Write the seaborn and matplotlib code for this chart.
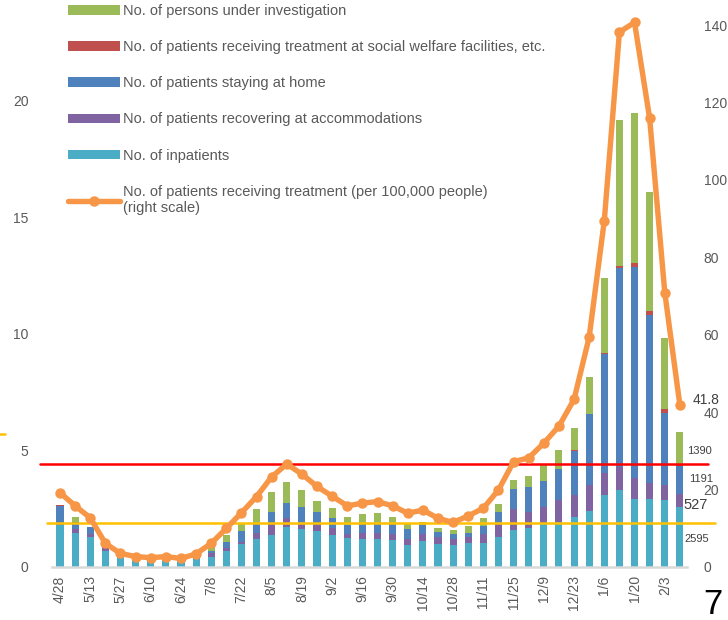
import numpy as np
import pandas as pd
import matplotlib.pyplot as plt
import seaborn as sns
from matplotlib.patches import Patch
from matplotlib.lines import Line2D

# weekly dates (every other one is labelled)
dates = ["4/28", "5/6", "5/13", "5/20", "5/27", "6/3", "6/10", "6/17", "6/24", "7/1",
         "7/8", "7/15", "7/22", "7/29", "8/5", "8/12", "8/19", "8/26", "9/2", "9/9",
         "9/16", "9/23", "9/30", "10/7", "10/14", "10/21", "10/28", "11/4", "11/11", "11/18",
         "11/25", "12/2", "12/9", "12/16", "12/23", "12/30", "1/6", "1/13", "1/20", "1/27",
         "2/3", "2/10"]

# persons (thousands), left scale
inpatients = [1.80, 1.47, 1.27, 0.70, 0.44, 0.30, 0.28, 0.28, 0.27, 0.35,
              0.42, 0.70, 0.97, 1.20, 1.37, 1.72, 1.62, 1.55, 1.37, 1.23,
              1.19, 1.20, 1.15, 0.96, 1.12, 0.99, 0.93, 1.02, 1.03, 1.30,
              1.59, 1.66, 1.85, 1.94, 2.13, 2.42, 3.09, 3.30, 2.91, 2.91,
              2.88, 2.595]
accommodations = [0.09, 0.14, 0.15, 0.10, 0.03, 0.02, 0.02, 0.02, 0.02, 0.07,
                  0.19, 0.10, 0.12, 0.25, 0.46, 0.37, 0.26, 0.25, 0.29, 0.19,
                  0.26, 0.25, 0.25, 0.23, 0.30, 0.28, 0.26, 0.25, 0.39, 0.58,
                  0.89, 0.71, 0.74, 0.94, 0.95, 1.10, 0.93, 0.98, 0.90, 0.71,
                  0.63, 0.527]
home = [0.72, 0.33, 0.28, 0.07, 0.03, 0.02, 0.02, 0.02, 0.02, 0.06,
        0.09, 0.29, 0.47, 0.43, 0.53, 0.67, 0.71, 0.56, 0.46, 0.38,
        0.43, 0.45, 0.48, 0.43, 0.38, 0.22, 0.21, 0.20, 0.35, 0.49,
        0.85, 1.05, 1.11, 1.31, 1.91, 3.03, 5.12, 8.54, 9.05, 7.20,
        3.08, 1.191]
welfare = [0.03, 0.0, 0.0, 0.0, 0.0, 0.0, 0.0, 0.0, 0.0, 0.0,
           0.0, 0.0, 0.0, 0.0, 0.0, 0.0, 0.0, 0.0, 0.0, 0.0,
           0.0, 0.0, 0.0, 0.0, 0.0, 0.0, 0.0, 0.0, 0.0, 0.0,
           0.0, 0.0, 0.0, 0.01, 0.02, 0.03, 0.04, 0.08, 0.20, 0.18,
           0.19, 0.10]
investigation = [0.03, 0.22, 0.0, 0.03, 0.0, 0.0, 0.0, 0.0, 0.0, 0.04,
                 0.17, 0.28, 0.34, 0.60, 0.85, 0.89, 0.71, 0.49, 0.41, 0.36,
                 0.38, 0.42, 0.28, 0.28, 0.15, 0.20, 0.19, 0.30, 0.35, 0.33,
                 0.40, 0.49, 0.68, 0.83, 0.94, 1.59, 3.21, 6.26, 6.41, 5.08,
                 3.03, 1.39]

# patients receiving treatment per 100,000 people, right scale
rate = [19.2, 15.8, 12.7, 6.1, 3.5, 2.7, 2.4, 2.7, 2.2, 3.4,
        6.1, 10.0, 14.0, 18.2, 23.3, 26.6, 24.0, 20.8, 18.3, 15.8,
        16.5, 16.9, 15.8, 13.9, 14.7, 12.6, 11.5, 13.2, 15.2, 19.9,
        27.2, 28.2, 32.0, 36.4, 43.3, 59.4, 89.5, 138.2, 140.7, 115.9,
        70.9, 41.8]

red_level = 4.42
yellow_level = 1.90

# labels next to the last bar
last_labels = ["1390", "1191", "527", "2595"]

labels = ["No. of persons under investigation",
          "No. of patients receiving treatment at social welfare facilities, etc.",
          "No. of patients staying at home",
          "No. of patients recovering at accommodations",
          "No. of inpatients",
          "No. of patients receiving treatment (per 100,000 people)\n(right scale)"]
colors = ["#9BBB59", "#C0504D", "#4F81BD", "#8064A2", "#4BACC6"]
orange = "#F79646"
grey = "#595959"

df = pd.DataFrame({"date": dates, "inp": inpatients, "acc": accommodations,
                   "home": home, "wel": welfare, "inv": investigation})
df["c_inp"] = df["inp"]
df["c_acc"] = df["c_inp"] + df["acc"]
df["c_home"] = df["c_acc"] + df["home"]
df["c_wel"] = df["c_home"] + df["wel"]
df["c_inv"] = df["c_wel"] + df["inv"]

sns.set_style("white")
plt.rcParams["font.family"] = ["Liberation Sans", "DejaVu Sans"]

fig = plt.figure(figsize=(7.28, 6.2), dpi=100)
ax = fig.add_axes([52 / 728, 53 / 620, 635 / 728, 567 / 620])

# stacked bars: draw cumulative totals from the top layer down
for col, c in zip(["c_inv", "c_wel", "c_home", "c_acc", "c_inp"], colors):
    sns.barplot(data=df, x="date", y=col, order=dates, color=c, saturation=1,
                width=0.47, ax=ax, linewidth=0)

ax.set_xlim(-0.53, len(dates) - 0.53)
ax.set_ylim(0, 24.33)
ax.set_yticks([0, 5, 10, 15, 20])
ax.set_xticks(range(0, len(dates), 2))
ax.set_xticklabels(dates[::2], rotation=90)
ax.set_xlabel("")
ax.set_ylabel("")
ax.tick_params(axis="y", length=0, pad=17, labelsize=10, labelcolor=grey)
ax.tick_params(axis="x", length=0, pad=6, labelsize=10, labelcolor=grey)
for s in ["left", "right", "top"]:
    ax.spines[s].set_visible(False)
ax.spines["bottom"].set_color("#D9D9D9")
ax.spines["bottom"].set_linewidth(1.8)

ax.axhline(red_level, xmin=-0.019, xmax=1.033, color="#FF0000", lw=1.8,
           clip_on=False, zorder=5)
ax.axhline(yellow_level, xmin=-0.008, xmax=1.044, color="#FFC000", lw=1.8,
           clip_on=False, zorder=5)

ax2 = ax.twinx()
sns.lineplot(x=np.arange(len(dates)), y=rate, ax=ax2, color=orange, lw=3.9,
             marker="o", markersize=7.5, markeredgewidth=0, legend=False)
ax2.set_ylim(0, 146.5)
ax2.set_yticks(range(0, 141, 20))
ax2.tick_params(axis="y", length=0, pad=12, labelsize=10, labelcolor=grey)
for s in ["left", "right", "top", "bottom"]:
    ax2.spines[s].set_visible(False)
ax2.set_ylabel("")

n = len(dates)
ax2.text(n - 1 + 1.72, rate[-1] + 1.3, f"{rate[-1]}", fontsize=10, color="#404040",
         ha="center", va="center")
label_y = [4.98, 3.78, 2.66, 1.20]
label_dx = [1.32, 1.38, 1.05, 1.12]
label_fs = [8, 8, 10.5, 8]
for txt, yy, dx, fs in zip(last_labels, label_y, label_dx, label_fs):
    ax.text(n - 1 + dx, yy, txt, fontsize=fs, color="#404040", ha="center",
            va="center", clip_on=False)

handles = [Patch(facecolor=c, edgecolor="none") for c in colors]
handles.append(Line2D([], [], color=orange, lw=3.9, marker="o", markersize=7.5,
                      markeredgewidth=0))
fig.legend(handles, labels, loc="upper left", bbox_to_anchor=(68 / 728, 1 - 4 / 620),
           frameon=False, fontsize=10.5, labelcolor=grey, borderpad=0,
           borderaxespad=0, handlelength=3.55, handletextpad=0.2,
           labelspacing=1.52, handleheight=0.62)

# stray stub at far left edge
fig.add_artist(Line2D([0, 5 / 728], [1 - 434 / 620, 1 - 434 / 620],
                      color="#FFC000", lw=1.8))
fig.text(713 / 728, 1 - 604 / 620, "7", fontsize=25, ha="center", va="center",
         color="black")

fig.savefig("out.png", dpi=100)
